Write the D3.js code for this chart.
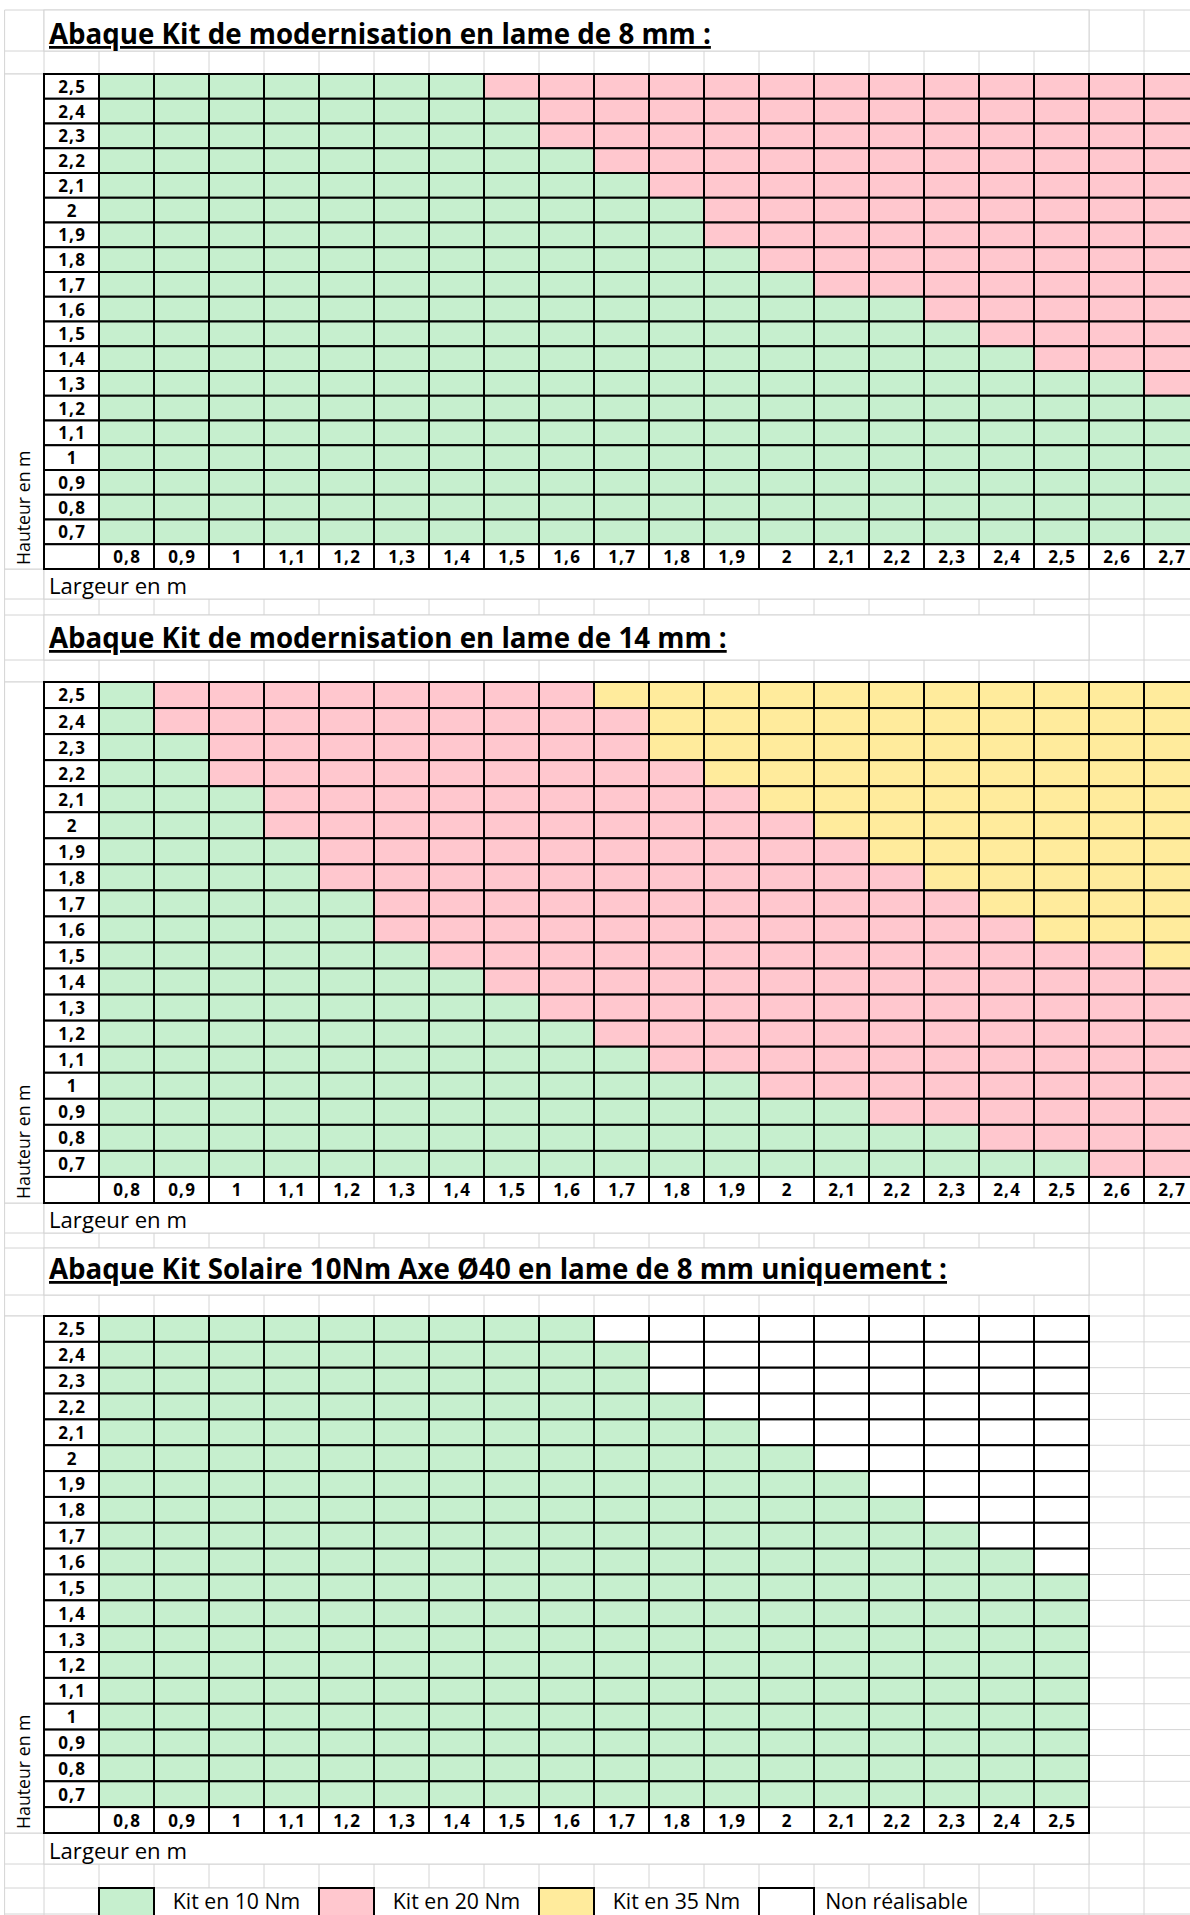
<!DOCTYPE html>
<html>
<head>
<meta charset="utf-8">
<script src="https://cdn.jsdelivr.net/npm/d3@7/dist/d3.min.js"></script>
<style>
  body { margin: 0; background: #fff; }
  svg { display: block; }
  text { font-family: "Open Sans", sans-serif; fill: #000; }
  .title { font-weight: bold; text-decoration: underline; }
  .tick-label { font-size: 17px; font-weight: bold; letter-spacing: 1.2px; }
</style>
</head>
<body>
<svg id="canvas"></svg>
<script>
// tick labels (widths along the bottom, heights down the side)
const largeurs = ["0,8", "0,9", "1", "1,1", "1,2", "1,3", "1,4", "1,5", "1,6", "1,7",
                  "1,8", "1,9", "2", "2,1", "2,2", "2,3", "2,4", "2,5", "2,6", "2,7"];
const largeursSolaire = ["0,8", "0,9", "1", "1,1", "1,2", "1,3", "1,4", "1,5", "1,6",
                         "1,7", "1,8", "1,9", "2", "2,1", "2,2", "2,3", "2,4", "2,5"];
const hauteurs = ["2,5", "2,4", "2,3", "2,2", "2,1", "2", "1,9", "1,8", "1,7", "1,6",
                  "1,5", "1,4", "1,3", "1,2", "1,1", "1", "0,9", "0,8", "0,7"];

const kits = ["Kit en 10 Nm", "Kit en 20 Nm", "Kit en 35 Nm", "Non réalisable"];
const kitColors = ["#C6EFCE", "#FFC7CE", "#FFEB9C", "#FFFFFF"];

// for each height (2,5 -> 0,7): number of width columns (from 0,8) that stay in the kit
const lame8Kit10 = [7, 8, 8, 9, 10, 11, 11, 12, 13, 15, 16, 17, 19, 20, 20, 20, 20, 20, 20];
const lame14Kit10 = [1, 1, 2, 2, 3, 3, 4, 4, 5, 5, 6, 7, 8, 9, 10, 12, 14, 16, 18];
const lame14Kit20 = [9, 10, 10, 11, 12, 13, 14, 15, 16, 17, 19, 20, 20, 20, 20, 20, 20, 20, 20];
const solaireKit10 = [9, 10, 10, 11, 12, 13, 14, 15, 16, 17, 18, 18, 18, 18, 18, 18, 18, 18, 18];

const titles = [
    "Abaque Kit de modernisation en lame de 8 mm :",
    "Abaque Kit de modernisation en lame de 14 mm :",
    "Abaque Kit Solaire 10Nm Axe Ø40 en lame de 8 mm uniquement :"
];

//dimensions
const width = 1190;
const height = 1915;
const colW = 55;
const firstCol = 99;        // left edge of the 0,8 column
const labelCol = 44;        // left edge of the height label column
const sheetLeft = 4.6;
const mergeRight = firstCol + 18 * colW;   // merged title rows stop after the 2,5 column
const gridGray = '#d4d4d4';

const svg = d3.select('#canvas')
    .attr('width', width)
    .attr('height', height);

const color = d3.scaleOrdinal()
    .domain(kits)
    .range(kitColors);

// the three blocks of the sheet
const blocks = [
    { title: titles[0], top: 10, titleBottom: 51, titleBase: 44, gridTop: 74, rowH: 24.75, cols: largeurs,
      captionH: 30, spacer: 16,
      kit: (i, j) => j < lame8Kit10[i] ? kits[0] : kits[1] },
    { title: titles[1], top: 615, titleBottom: 660, titleBase: 648, gridTop: 682, rowH: 26.05, cols: largeurs,
      captionH: 30, spacer: 15,
      kit: (i, j) => j < lame14Kit10[i] ? kits[0] : (j < lame14Kit20[i] ? kits[1] : kits[2]) },
    { title: titles[2], top: 1248, titleBottom: 1295, titleBase: 1279, gridTop: 1316, rowH: 25.85, cols: largeursSolaire,
      captionH: 31, spacer: 24,
      kit: (i, j) => j < solaireKit10[i] ? kits[0] : kits[3] }
];
blocks.forEach(b => {
    b.gridBottom = b.gridTop + (hauteurs.length + 1) * b.rowH;
    b.captionBottom = b.gridBottom + b.captionH;
});
const legendTop = 1888;

// spreadsheet gridlines
const colEdges = [sheetLeft, labelCol, ...d3.range(21).map(k => firstCol + k * colW)];
let rowEdges = [];
blocks.forEach(b => {
    rowEdges.push(b.top, b.titleBottom);
    d3.range(hauteurs.length + 2).forEach(i => rowEdges.push(b.gridTop + i * b.rowH));
    rowEdges.push(b.captionBottom);
});
rowEdges.push(legendTop, height - 1);

const sheet = svg.append('g');
sheet.selectAll('line.h')
    .data(rowEdges)
    .join('line')
    .attr('x1', sheetLeft).attr('x2', width)
    .attr('y1', d => d).attr('y2', d => d)
    .attr('stroke', gridGray);
sheet.selectAll('line.v')
    .data(colEdges)
    .join('line')
    .attr('x1', d => d).attr('x2', d => d)
    .attr('y1', 10).attr('y2', height)
    .attr('stroke', gridGray);

// merged cells hide the inner gridlines
const merges = [];
blocks.forEach(b => {
    merges.push({ x0: labelCol, x1: mergeRight, y0: b.top, y1: b.titleBottom });
    merges.push({ x0: labelCol, x1: mergeRight, y0: b.gridBottom, y1: b.captionBottom });
    merges.push({ x0: sheetLeft, x1: labelCol, y0: b.gridTop, y1: b.gridBottom });
});
const legendX = d3.scaleBand()
    .domain(kits)
    .range([firstCol, firstCol + 16 * colW]);
kits.forEach(k => merges.push({ x0: legendX(k) + colW, x1: legendX(k) + legendX.bandwidth(), y0: legendTop, y1: height + 5 }));

sheet.selectAll('rect.merge')
    .data(merges)
    .join('rect')
    .attr('x', d => d.x0).attr('y', d => d.y0)
    .attr('width', d => d.x1 - d.x0).attr('height', d => d.y1 - d.y0)
    .attr('fill', '#fff')
    .attr('stroke', gridGray);

// draw one abacus grid
function drawGrid(b) {
    const g = svg.append('g');

    const x = d3.scaleBand()
        .domain(b.cols)
        .range([firstCol, firstCol + b.cols.length * colW]);
    const y = d3.scaleBand()
        .domain(hauteurs)
        .range([b.gridTop, b.gridTop + hauteurs.length * b.rowH]);
    const labelY = y.range()[1];

    const cells = [];
    hauteurs.forEach((h, i) => b.cols.forEach((w, j) => cells.push({ h, w, kit: b.kit(i, j) })));

    g.selectAll('rect.cell')
        .data(cells)
        .join('rect')
        .attr('class', 'cell')
        .attr('x', d => x(d.w))
        .attr('y', d => y(d.h))
        .attr('width', x.bandwidth())
        .attr('height', y.bandwidth())
        .attr('fill', d => color(d.kit));

    // label cells (white)
    g.selectAll('rect.rowlab')
        .data(hauteurs)
        .join('rect')
        .attr('class', 'rowlab')
        .attr('x', labelCol).attr('y', d => y(d))
        .attr('width', firstCol - labelCol).attr('height', y.bandwidth())
        .attr('fill', '#fff');
    g.selectAll('rect.collab')
        .data(b.cols)
        .join('rect')
        .attr('class', 'collab')
        .attr('x', d => x(d)).attr('y', labelY)
        .attr('width', x.bandwidth()).attr('height', b.rowH)
        .attr('fill', '#fff');
    g.append('rect')
        .attr('x', labelCol).attr('y', labelY)
        .attr('width', firstCol - labelCol).attr('height', b.rowH)
        .attr('fill', '#fff');

    g.selectAll('rect')
        .attr('stroke', '#000')
        .attr('stroke-width', 2);

    // axes carry the labels
    const left = g.append('g')
        .attr('transform', `translate(${(labelCol + firstCol) / 2 + 0.6}, 0)`)
        .call(d3.axisLeft(y).tickSize(0));
    left.select('.domain').remove();
    left.selectAll('text')
        .attr('class', 'tick-label')
        .attr('x', 0)
        .attr('dy', '0.38em')
        .attr('text-anchor', 'middle');

    const bottom = g.append('g')
        .attr('transform', `translate(0.6, ${labelY + b.rowH / 2})`)
        .call(d3.axisBottom(x).tickSize(0));
    bottom.select('.domain').remove();
    bottom.selectAll('text')
        .attr('class', 'tick-label')
        .attr('y', 0)
        .attr('dy', '0.38em');

    // title
    svg.append('text')
        .attr('class', 'title')
        .attr('x', 49)
        .attr('y', b.titleBase)
        .text(b.title);

    // axis captions
    svg.append('text')
        .attr('class', 'caption')
        .attr('x', 49)
        .attr('y', b.captionBottom - 5)
        .text('Largeur en m');
    svg.append('text')
        .attr('class', 'caption vertical')
        .attr('transform', `translate(30, ${b.gridBottom - 4}) rotate(-90)`)
        .text('Hauteur en m');
}

blocks.forEach(drawGrid);

// legend
const legend = svg.append('g');
legend.selectAll('rect')
    .data(kits)
    .join('rect')
    .attr('x', d => legendX(d))
    .attr('y', legendTop)
    .attr('width', colW)
    .attr('height', 40)
    .attr('fill', d => color(d))
    .attr('stroke', '#000')
    .attr('stroke-width', 2);
legend.selectAll('text')
    .data(kits)
    .join('text')
    .attr('class', 'caption legend-text')
    .attr('x', d => legendX(d) + colW + (legendX.bandwidth() - colW) / 2)
    .attr('y', legendTop + 21)
    .attr('text-anchor', 'middle')
    .text(d => d);

// size the fonts so the texts keep the sheet's widths
function fitSize(sel, target) {
    sel.style('font-size', '20px');
    const w = sel.node().getComputedTextLength();
    return 20 * target / w;
}
const titleSize = fitSize(svg.select('.title'), 662);
svg.selectAll('.title').style('font-size', `${titleSize}px`);
const captionSize = fitSize(svg.select('.caption'), 138);
svg.selectAll('.caption').style('font-size', `${captionSize}px`);
svg.selectAll('.legend-text').style('font-size', `${captionSize * 0.96}px`);
svg.selectAll('.vertical').style('font-size', `${captionSize * 0.8}px`);
</script>
</body>
</html>
